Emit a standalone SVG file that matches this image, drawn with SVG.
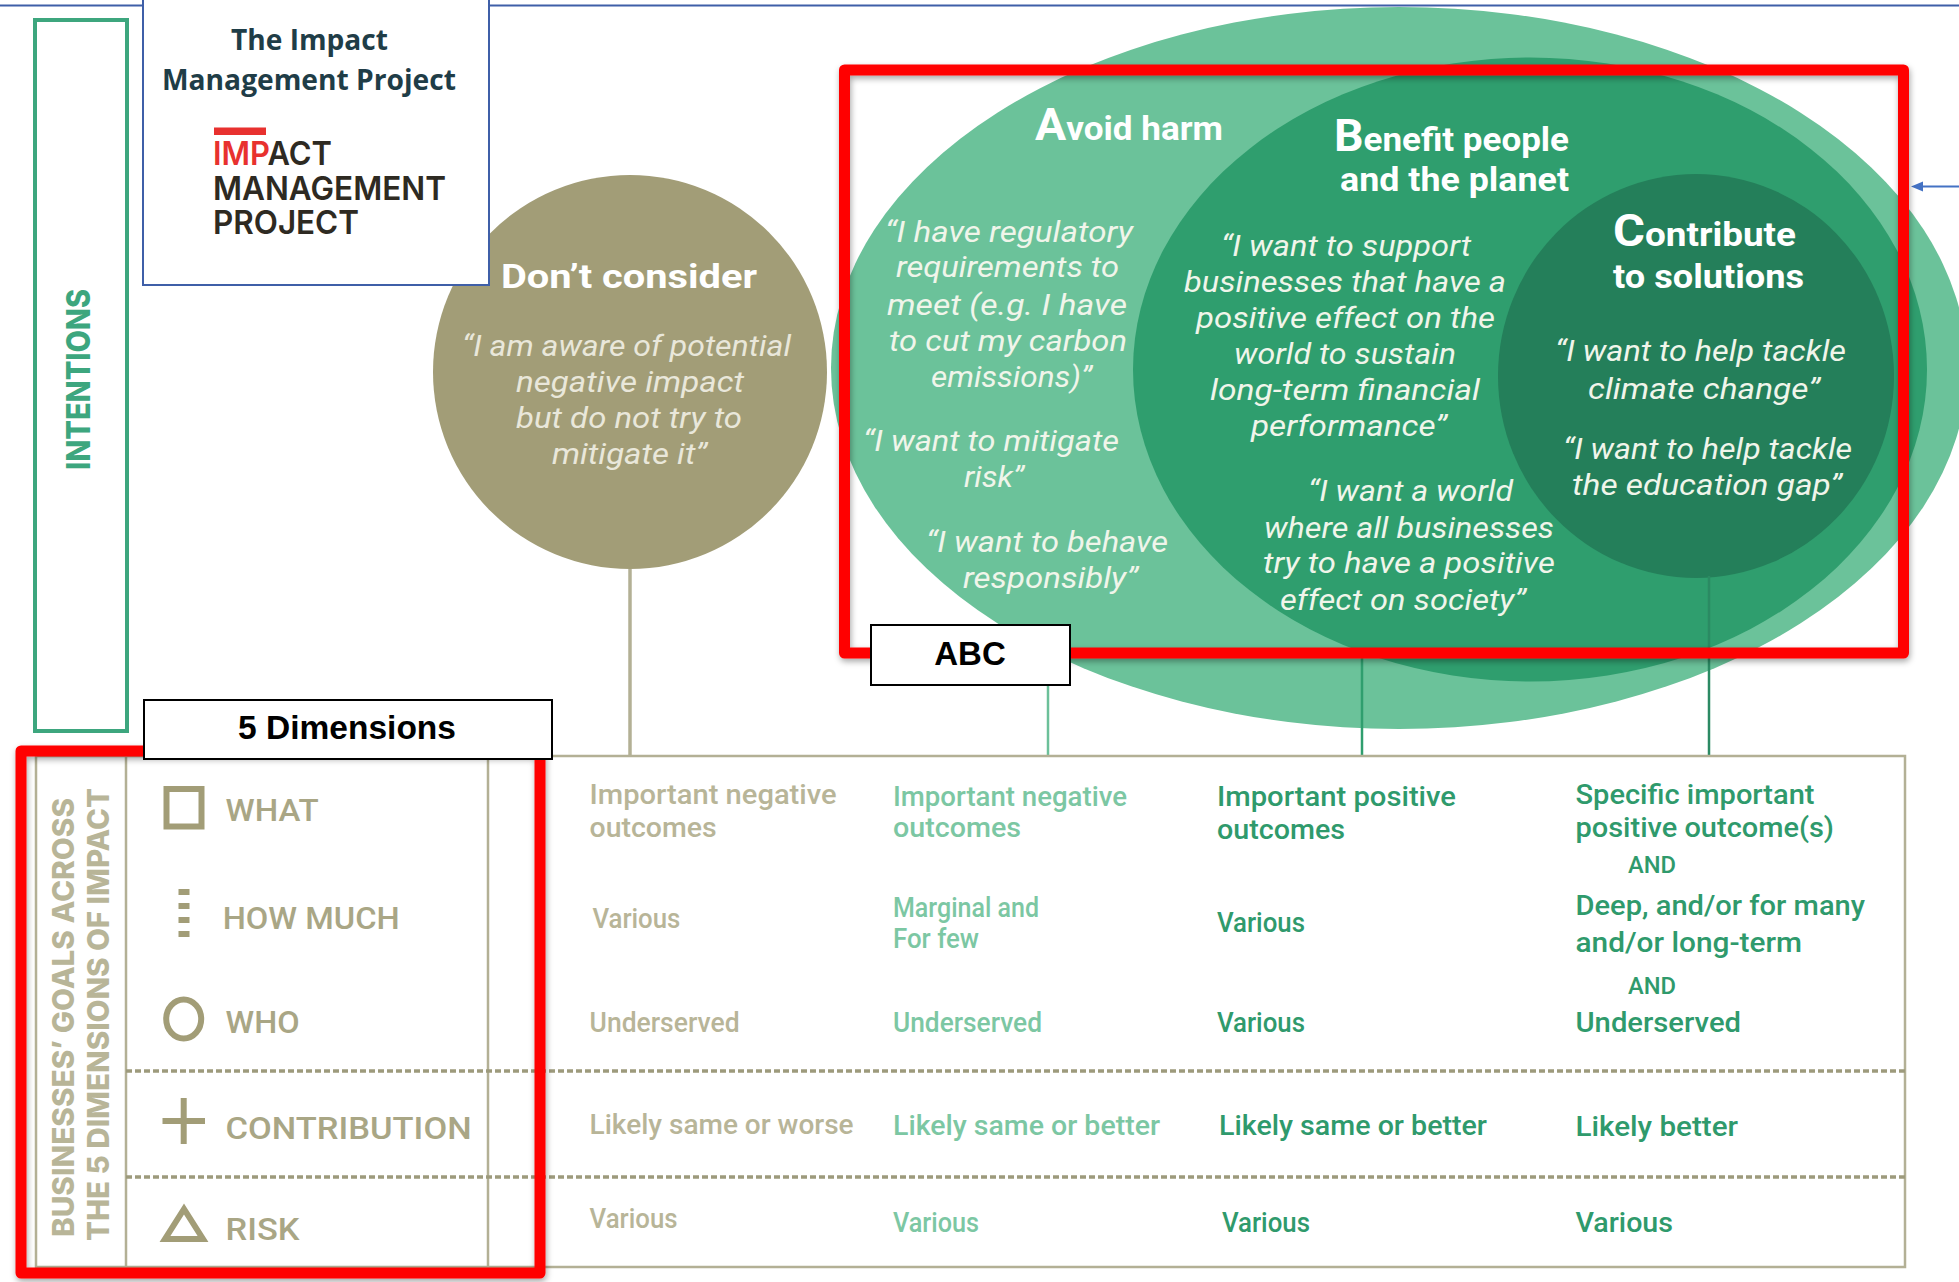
<svg xmlns="http://www.w3.org/2000/svg" width="1959" height="1282" viewBox="0 0 1959 1282">
<defs>
<style>
text{font-family:Roboto,"Liberation Sans",sans-serif}
.q{font-style:italic;font-size:30px;fill:#f0f5ea}
.qk{font-style:italic;font-size:30px;fill:#e9e7da}
.t{font-weight:700;font-size:34px;fill:#fff}
.big{font-size:45px}
.dim{font-weight:500;font-size:32px;fill:#a9a685}
.side{font-family:Inter,"Liberation Sans",sans-serif;font-weight:800;font-size:29.5px;fill:#b8b598}
.c1{font-size:28px;font-weight:500;fill:#b8b598}
.c2{font-size:28px;font-weight:500;fill:#7cc7a3}
.c3{font-size:28px;font-weight:500;fill:#2f9a6c}
.and{font-size:24px}
.ln{fill:none;stroke:#b3b095;stroke-width:2.5}
.dash{fill:none;stroke:#9d9a7c;stroke-width:3.5;stroke-dasharray:6 3}
.ico{fill:none;stroke:#a29d77;stroke-width:6}
.red{fill:none;stroke:#f00;stroke-width:11;stroke-linejoin:round;filter:url(#sh)}
.lab{fill:#fff;stroke:#000;stroke-width:2}
.labt{font-family:"Liberation Sans",sans-serif;font-weight:700;font-size:33px;fill:#000;text-anchor:middle}
.logo{font-family:Inter,"Liberation Sans",sans-serif;font-size:33px;fill:#2e2a22;font-weight:600}
.head{font-family:"Open Sans","Liberation Sans",sans-serif;font-weight:700;font-size:28px;fill:#1f3d47}
</style>
<filter id="sh" x="-5%" y="-5%" width="110%" height="110%"><feDropShadow dx="1" dy="3" stdDeviation="3" flood-color="#000" flood-opacity=".35"/></filter>
<marker id="ah" markerWidth="12" markerHeight="10" refX="0" refY="5" orient="auto" markerUnits="userSpaceOnUse" viewBox="0 0 12 10"><path d="M0 5L12 0V10z" fill="#4472c4" transform="rotate(0)"/></marker>
</defs>
<rect width="1959" height="1282" fill="#fff"/>
<line x1="0" y1="5.5" x2="1959" y2="5.5" stroke="#3f5fa8" stroke-width="2"/>

<g id="intentions">
<rect x="35" y="20" width="92" height="711" fill="none" stroke="#3da67e" stroke-width="4"/>
<text transform="translate(90,470) rotate(-90)" textLength="181" lengthAdjust="spacingAndGlyphs" style="font-family:Inter,'Liberation Sans',sans-serif;font-weight:800;font-size:32px;fill:#3da67e">INTENTIONS</text>
</g>

<g id="dont-consider">
<ellipse cx="630" cy="372" rx="197" ry="197" fill="#a29d77"/>
<text class="t" x="501" y="288" textLength="256" lengthAdjust="spacingAndGlyphs">Don’t consider</text>
<text class="qk" x="462" y="356" textLength="329" lengthAdjust="spacingAndGlyphs">“I am aware of potential</text>
<text class="qk" x="516" y="392" textLength="228" lengthAdjust="spacingAndGlyphs">negative impact</text>
<text class="qk" x="516" y="428" textLength="226" lengthAdjust="spacingAndGlyphs">but do not try to</text>
<text class="qk" x="552" y="464" textLength="155" lengthAdjust="spacingAndGlyphs">mitigate it”</text>
</g>

<g id="avoid-harm">
<ellipse cx="1399" cy="368" rx="568" ry="361" fill="#6bc29a"/>
</g>
<g id="benefit">
<ellipse cx="1530" cy="369.5" rx="397" ry="312" fill="#2f9e6e"/>
</g>
<g id="contribute">
<ellipse cx="1696" cy="376" rx="198" ry="202" fill="#247f5a"/>
</g>

<g id="connectors">
<line x1="630" y1="569" x2="630" y2="756" stroke="#b3b095" stroke-width="3.5"/>
<line x1="1048" y1="680" x2="1048" y2="756" stroke="#6cc09a" stroke-width="2.5"/>
<line x1="1362" y1="650" x2="1362" y2="756" stroke="#2f9e6e" stroke-width="2.5"/>
<line x1="1709" y1="576" x2="1709" y2="756" stroke="#2b8a63" stroke-width="2.5"/>
<line x1="1959" y1="186.5" x2="1923" y2="186.5" stroke="#4472c4" stroke-width="2"/>
<path d="M1911 186.5L1923 181.5V191.5z" fill="#4472c4"/>
</g>

<g id="avoid-text">
<text class="t" x="1035" y="140" textLength="188" lengthAdjust="spacingAndGlyphs"><tspan class="big">A</tspan>void harm</text>
<text class="q" x="885" y="242" textLength="248" lengthAdjust="spacingAndGlyphs">“I have regulatory</text>
<text class="q" x="896" y="277" textLength="223" lengthAdjust="spacingAndGlyphs">requirements to</text>
<text class="q" x="887" y="315" textLength="240" lengthAdjust="spacingAndGlyphs">meet  (e.g. I have</text>
<text class="q" x="889" y="351" textLength="238" lengthAdjust="spacingAndGlyphs">to cut my carbon</text>
<text class="q" x="931" y="387" textLength="161" lengthAdjust="spacingAndGlyphs">emissions)”</text>
<text class="q" x="863" y="451" textLength="256" lengthAdjust="spacingAndGlyphs">“I want to mitigate</text>
<text class="q" x="964" y="487" textLength="60" lengthAdjust="spacingAndGlyphs">risk”</text>
<text class="q" x="926" y="552" textLength="242" lengthAdjust="spacingAndGlyphs">“I want to behave</text>
<text class="q" x="963" y="588" textLength="175" lengthAdjust="spacingAndGlyphs">responsibly”</text>
</g>

<g id="benefit-text">
<text class="t" x="1334" y="151" textLength="235" lengthAdjust="spacingAndGlyphs"><tspan class="big">B</tspan>enefit people</text>
<text class="t" x="1340" y="191" textLength="229" lengthAdjust="spacingAndGlyphs">and the planet</text>
<text class="q" x="1221" y="256" textLength="250" lengthAdjust="spacingAndGlyphs">“I want to support</text>
<text class="q" x="1184" y="292" textLength="322" lengthAdjust="spacingAndGlyphs">businesses that have a</text>
<text class="q" x="1196" y="328" textLength="299" lengthAdjust="spacingAndGlyphs">positive effect on the</text>
<text class="q" x="1234" y="364" textLength="222" lengthAdjust="spacingAndGlyphs">world to sustain</text>
<text class="q" x="1210" y="400" textLength="270" lengthAdjust="spacingAndGlyphs">long-term financial</text>
<text class="q" x="1251" y="436" textLength="196" lengthAdjust="spacingAndGlyphs">performance”</text>
<text class="q" x="1308" y="501" textLength="205" lengthAdjust="spacingAndGlyphs">“I want a world</text>
<text class="q" x="1264" y="538" textLength="290" lengthAdjust="spacingAndGlyphs">where all businesses</text>
<text class="q" x="1263" y="573" textLength="292" lengthAdjust="spacingAndGlyphs">try to have a positive</text>
<text class="q" x="1280" y="610" textLength="246" lengthAdjust="spacingAndGlyphs">effect on society”</text>
</g>

<g id="contribute-text">
<text class="t" x="1613" y="246" textLength="183" lengthAdjust="spacingAndGlyphs"><tspan class="big">C</tspan>ontribute</text>
<text class="t" x="1613" y="288" textLength="191" lengthAdjust="spacingAndGlyphs">to solutions</text>
<text class="q" x="1555" y="361" textLength="291" lengthAdjust="spacingAndGlyphs">“I want to help tackle</text>
<text class="q" x="1588" y="399" textLength="232" lengthAdjust="spacingAndGlyphs">climate change”</text>
<text class="q" x="1563" y="459" textLength="289" lengthAdjust="spacingAndGlyphs">“I want to help tackle</text>
<text class="q" x="1572" y="495" textLength="270" lengthAdjust="spacingAndGlyphs">the education gap”</text>
</g>

<g id="table">
<rect class="ln" x="36" y="756" width="1869" height="511"/>
<line class="ln" x1="126" y1="756" x2="126" y2="1267"/>
<line class="ln" x1="488" y1="756" x2="488" y2="1267"/>
<line class="dash" x1="126" y1="1071" x2="1905" y2="1071"/>
<line class="dash" x1="126" y1="1177" x2="1905" y2="1177"/>
<text class="side" transform="translate(73.5,1237) rotate(-90)" textLength="439" lengthAdjust="spacingAndGlyphs">BUSINESSES’ GOALS ACROSS</text>
<text class="side" transform="translate(109,1241) rotate(-90)" textLength="453" lengthAdjust="spacingAndGlyphs">THE 5 DIMENSIONS OF IMPACT</text>
</g>

<g id="dim-what">
<rect class="ico" x="166.5" y="789" width="35" height="37.5"/>
<text class="dim" x="225.6" y="820.6" textLength="93" lengthAdjust="spacingAndGlyphs">WHAT</text>
</g>
<g id="dim-how-much">
<line x1="184" y1="889" x2="184" y2="937" stroke="#a29d77" stroke-width="11" stroke-dasharray="6 8"/>
<text class="dim" x="222.7" y="929" textLength="177" lengthAdjust="spacingAndGlyphs">HOW MUCH</text>
</g>
<g id="dim-who">
<ellipse class="ico" cx="183.7" cy="1019" rx="17.5" ry="19.5"/>
<text class="dim" x="225.6" y="1033" textLength="74" lengthAdjust="spacingAndGlyphs">WHO</text>
</g>
<g id="dim-contribution">
<path class="ico" d="M162.5 1121H205M183.7 1098V1144"/>
<text class="dim" x="225.6" y="1139" textLength="246" lengthAdjust="spacingAndGlyphs">CONTRIBUTION</text>
</g>
<g id="dim-risk">
<polygon class="ico" points="184,1209 203,1239 165,1239"/>
<text class="dim" x="225.6" y="1240" textLength="74" lengthAdjust="spacingAndGlyphs">RISK</text>
</g>

<g id="col-dont-consider">
<text class="c1" x="589.6" y="804" textLength="247" lengthAdjust="spacingAndGlyphs">Important negative</text>
<text class="c1" x="589.6" y="837" textLength="127" lengthAdjust="spacingAndGlyphs">outcomes</text>
<text class="c1" x="592.4" y="928" textLength="88" lengthAdjust="spacingAndGlyphs">Various</text>
<text class="c1" x="589.6" y="1031.5" textLength="150" lengthAdjust="spacingAndGlyphs">Underserved</text>
<text class="c1" x="589.6" y="1133.5" textLength="264" lengthAdjust="spacingAndGlyphs">Likely same or worse</text>
<text class="c1" x="589.6" y="1228" textLength="88" lengthAdjust="spacingAndGlyphs">Various</text>
</g>
<g id="col-avoid">
<text class="c2" x="893" y="806" textLength="234" lengthAdjust="spacingAndGlyphs">Important negative</text>
<text class="c2" x="893" y="837" textLength="128" lengthAdjust="spacingAndGlyphs">outcomes</text>
<text class="c2" x="893" y="917" textLength="146" lengthAdjust="spacingAndGlyphs">Marginal and</text>
<text class="c2" x="893" y="948" textLength="86" lengthAdjust="spacingAndGlyphs">For few</text>
<text class="c2" x="893" y="1031.5" textLength="149" lengthAdjust="spacingAndGlyphs">Underserved</text>
<text class="c2" x="893" y="1135" textLength="267" lengthAdjust="spacingAndGlyphs">Likely same or better</text>
<text class="c2" x="893" y="1231.5" textLength="86" lengthAdjust="spacingAndGlyphs">Various</text>
</g>
<g id="col-benefit">
<text class="c3" x="1217" y="806" textLength="239" lengthAdjust="spacingAndGlyphs">Important positive</text>
<text class="c3" x="1217" y="838.5" textLength="128" lengthAdjust="spacingAndGlyphs">outcomes</text>
<text class="c3" x="1217" y="932" textLength="88" lengthAdjust="spacingAndGlyphs">Various</text>
<text class="c3" x="1217" y="1031.5" textLength="88" lengthAdjust="spacingAndGlyphs">Various</text>
<text class="c3" x="1219" y="1135" textLength="268" lengthAdjust="spacingAndGlyphs">Likely same or better</text>
<text class="c3" x="1222" y="1231.5" textLength="88" lengthAdjust="spacingAndGlyphs">Various</text>
</g>
<g id="col-contribute">
<text class="c3" x="1575.5" y="804" textLength="239" lengthAdjust="spacingAndGlyphs">Specific important</text>
<text class="c3" x="1575.5" y="837" textLength="258.5" lengthAdjust="spacingAndGlyphs">positive outcome(s)</text>
<text class="c3 and" x="1628" y="873" textLength="48" lengthAdjust="spacingAndGlyphs">AND</text>
<text class="c3" x="1575.5" y="914.5" textLength="289.5" lengthAdjust="spacingAndGlyphs">Deep, and/or for many</text>
<text class="c3" x="1575.5" y="952" textLength="226.5" lengthAdjust="spacingAndGlyphs">and/or long-term</text>
<text class="c3 and" x="1628" y="994" textLength="48" lengthAdjust="spacingAndGlyphs">AND</text>
<text class="c3" x="1575.5" y="1031.5" textLength="165.5" lengthAdjust="spacingAndGlyphs">Underserved</text>
<text class="c3" x="1575.5" y="1136" textLength="162.5" lengthAdjust="spacingAndGlyphs">Likely better</text>
<text class="c3" x="1575.5" y="1231.5" textLength="97.5" lengthAdjust="spacingAndGlyphs">Various</text>
</g>

<g id="impact-logo-box">
<rect x="143" y="-5" width="346" height="290" fill="#fff" stroke="#3f5fa8" stroke-width="2"/>
<text class="head" x="231" y="49.5" textLength="157" lengthAdjust="spacingAndGlyphs">The Impact</text>
<text class="head" x="162" y="90" textLength="294" lengthAdjust="spacingAndGlyphs">Management Project</text>
<rect x="214" y="127.5" width="52" height="7.5" fill="#e8312f"/>
<text class="logo"><tspan x="213" y="165" textLength="119" lengthAdjust="spacingAndGlyphs"><tspan fill="#e8312f">IMP</tspan>ACT</tspan><tspan x="213" y="200" textLength="233" lengthAdjust="spacingAndGlyphs">MANAGEMENT</tspan><tspan x="213" y="234" textLength="146" lengthAdjust="spacingAndGlyphs">PROJECT</tspan></text>
</g>

<g id="abc-frame">
<rect class="red" x="844.5" y="70" width="1059" height="583"/>
<rect class="lab" x="871" y="625" width="199" height="60"/>
<text class="labt" x="970" y="665">ABC</text>
</g>
<g id="dimensions-frame">
<rect class="red" x="21" y="751" width="519" height="522"/>
<rect class="lab" x="144" y="700" width="408" height="59"/>
<text class="labt" x="347" y="739" textLength="218" lengthAdjust="spacingAndGlyphs">5 Dimensions</text>
</g>
</svg>
